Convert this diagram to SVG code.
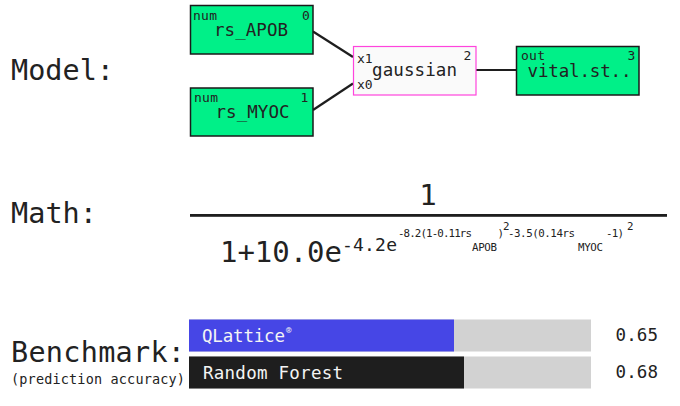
<svg xmlns="http://www.w3.org/2000/svg" width="680" height="406" viewBox="0 0 680 406">
<style>
text { font-family: "DejaVu Sans Mono", "Liberation Mono", monospace; fill: #222; }
.big { font-size: 28.5px; }
.sm { font-size: 13px; }
.nm { font-size: 17.5px; }
.node { fill: #00f088; stroke: #1a1a1a; stroke-width: 1.5; }
.fn { fill: #fafafa; stroke: #ff44dd; stroke-width: 1.2; }
.edge { stroke: #1e1e1e; stroke-width: 2.2; fill: none; }
.ex { font-size: 10.8px; }
.bt { font-size: 17.5px; fill: #f4f4f4; }
.val { font-size: 17.5px; }
</style>
<rect width="680" height="406" fill="#ffffff"/>

<text class="big" x="11" y="80" textLength="103">Model:</text>
<text class="big" x="11" y="223" textLength="86">Math:</text>
<text class="big" x="11" y="362" textLength="174">Benchmark:</text>
<text x="11" y="384" style="font-size:13.5px" textLength="174">(prediction accuracy)</text>

<g id="connectors">
<line class="edge" x1="313" y1="31.5" x2="353" y2="57"/>
<line class="edge" x1="313" y1="110" x2="353" y2="83.5"/>
<line class="edge" x1="476" y1="70" x2="516" y2="70"/>
</g>

<g id="node0">
<rect class="node" x="190.5" y="5.5" width="122.5" height="48.5"/>
<text class="sm" x="193" y="19.5" textLength="24">num</text>
<text class="sm" x="302" y="19.5">0</text>
<text class="nm" x="214" y="35.5" textLength="74">rs_APOB</text>
</g>
<g id="node1">
<rect class="node" x="190.5" y="88" width="122.5" height="48"/>
<text class="sm" x="194" y="101.5" textLength="24">num</text>
<text class="sm" x="300.5" y="101.5">1</text>
<text class="nm" x="215.5" y="118" textLength="74">rs_MYOC</text>
</g>
<g id="node2">
<rect class="fn" x="353.5" y="46.5" width="122.5" height="48.5"/>
<text class="sm" x="357" y="62.5">x1</text>
<text class="sm" x="357" y="88.5">x0</text>
<text class="sm" x="463.5" y="59.5">2</text>
<text class="nm" x="372" y="76" textLength="85">gaussian</text>
</g>
<g id="node3">
<rect class="node" x="516.5" y="46.5" width="122.5" height="48.5"/>
<text class="sm" x="521" y="59.5" textLength="24">out</text>
<text class="sm" x="627.5" y="59.5">3</text>
<text class="nm" x="527.5" y="76.5" textLength="104">vital.st..</text>
</g>

<g id="math">
<text x="428" y="205" text-anchor="middle" style="font-size:29px">1</text>
<rect x="190" y="214" width="477" height="2.8" fill="#1e1e1e"/>
<text x="220" y="262" style="font-size:29px" textLength="122">1+10.0e</text>
<text x="342" y="251" style="font-size:18px" textLength="55">-4.2e</text>
<text class="ex" x="398" y="237" textLength="74">-8.2(1-0.11rs</text>
<text class="ex" x="472" y="250.5" textLength="25">APOB</text>
<text class="ex" x="497.5" y="237">)</text>
<text class="ex" x="503" y="230">2</text>
<text class="ex" x="508" y="237" textLength="67">-3.5(0.14rs</text>
<text class="ex" x="578" y="250.5" textLength="25">MYOC</text>
<text class="ex" x="606" y="237" textLength="18">-1)</text>
<text class="ex" x="627" y="230">2</text>
</g>

<g id="benchmark">
<rect x="189" y="319.5" width="402" height="32" fill="#d2d2d2"/>
<rect x="189" y="319.5" width="265" height="32" fill="#4646e6"/>
<text class="bt" x="202" y="341.5" textLength="83">QLattice</text>
<text x="286" y="333" style="font-size:9px;fill:#f4f4f4">®</text>
<rect x="189" y="356.5" width="402" height="32" fill="#d2d2d2"/>
<rect x="189" y="356.5" width="275" height="32" fill="#1e1e1e"/>
<text class="bt" x="203" y="379" textLength="140">Random Forest</text>
<text class="val" x="615.5" y="341" textLength="42.5">0.65</text>
<text class="val" x="615.5" y="378" textLength="42.5">0.68</text>
</g>
</svg>
